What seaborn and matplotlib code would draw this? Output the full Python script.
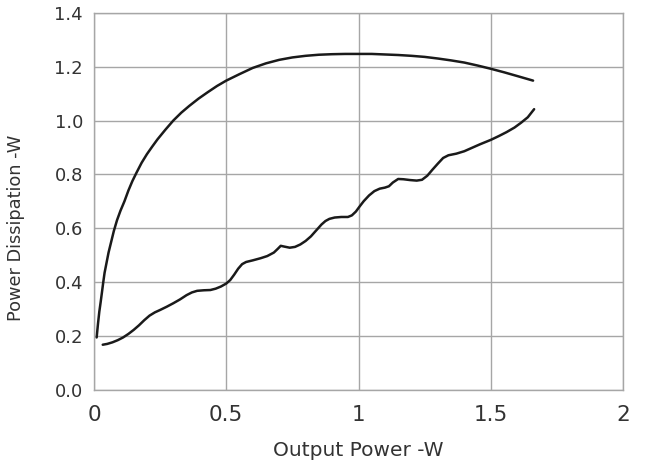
import matplotlib
matplotlib.use("Agg")
import matplotlib.pyplot as plt
import seaborn as sns
import pandas as pd

# Upper curve
upper_x = [0.010, 0.015, 0.020, 0.025, 0.030, 0.035, 0.040, 0.047, 0.055, 0.065, 0.075, 0.087,
           0.100, 0.115, 0.130, 0.145, 0.160, 0.180, 0.200, 0.220, 0.240, 0.270, 0.300, 0.330,
           0.360, 0.395, 0.430, 0.465, 0.500, 0.550, 0.600, 0.650, 0.700, 0.750, 0.800, 0.850,
           0.900, 0.950, 1.000, 1.050, 1.100, 1.150, 1.200, 1.250, 1.300, 1.350, 1.400, 1.450,
           1.500, 1.550, 1.600, 1.660]
upper_y = [0.195, 0.245, 0.290, 0.325, 0.362, 0.400, 0.435, 0.470, 0.510, 0.550, 0.590, 0.630,
           0.665, 0.700, 0.740, 0.775, 0.805, 0.843, 0.875, 0.903, 0.930, 0.966, 1.000, 1.029,
           1.054, 1.081, 1.105, 1.128, 1.148, 1.172, 1.195, 1.212, 1.225, 1.234, 1.240, 1.244,
           1.246, 1.247, 1.247, 1.247, 1.245, 1.243, 1.240, 1.236, 1.230, 1.223, 1.215, 1.204,
           1.192, 1.179, 1.165, 1.148]

# Lower curve
lower_x = [0.033, 0.05, 0.07, 0.09, 0.11, 0.13, 0.15, 0.17, 0.19, 0.21, 0.23, 0.25, 0.275,
           0.30, 0.325, 0.35, 0.37, 0.39, 0.415, 0.44, 0.46, 0.48, 0.50, 0.515, 0.53, 0.545,
           0.56, 0.575, 0.60, 0.63, 0.655, 0.68, 0.695, 0.706, 0.72, 0.74, 0.76, 0.78, 0.80,
           0.82, 0.84, 0.86, 0.875, 0.89, 0.91, 0.935, 0.96, 0.975, 0.99, 1.005, 1.02, 1.04,
           1.06, 1.08, 1.10, 1.115, 1.13, 1.15, 1.17, 1.195, 1.22, 1.24, 1.26, 1.28, 1.30,
           1.32, 1.34, 1.37, 1.40, 1.43, 1.46, 1.50, 1.53, 1.56, 1.59, 1.615, 1.64, 1.664]
lower_y = [0.168, 0.171, 0.177, 0.185, 0.195, 0.208, 0.223, 0.240, 0.259, 0.276, 0.288, 0.297,
           0.309, 0.322, 0.336, 0.352, 0.362, 0.368, 0.370, 0.371, 0.376, 0.384, 0.395, 0.408,
           0.428, 0.450, 0.467, 0.475, 0.481, 0.489, 0.497, 0.510, 0.524, 0.535, 0.532, 0.528,
           0.531, 0.540, 0.553, 0.570, 0.592, 0.614, 0.627, 0.635, 0.640, 0.642, 0.642, 0.648,
           0.662, 0.682, 0.701, 0.722, 0.738, 0.747, 0.751, 0.756, 0.770, 0.783, 0.782, 0.779,
           0.777, 0.780, 0.795, 0.818, 0.840, 0.861, 0.871, 0.877, 0.886, 0.899, 0.912, 0.928,
           0.942, 0.957, 0.974, 0.992, 1.012, 1.042]

x_ticks = [0, 0.5, 1, 1.5, 2]
x_tick_labels = ["0", "0.5", "1", "1.5", "2"]
y_ticks = [0.0, 0.2, 0.4, 0.6, 0.8, 1.0, 1.2, 1.4]
y_tick_labels = ["0.0", "0.2", "0.4", "0.6", "0.8", "1.0", "1.2", "1.4"]

sns.set_theme(style="white")
plt.rcParams['font.family'] = ['DejaVu Sans']

fig = plt.figure(figsize=(6.49, 4.62), dpi=100)
ax = fig.add_axes([94/649, 1 - 390/462, 529/649, 377.3/462])

grid_c = "#a6a6a6"
line_c = "#1a1a1a"
df_u = pd.DataFrame({"x": upper_x, "y": upper_y})
df_l = pd.DataFrame({"x": lower_x, "y": lower_y})
sns.lineplot(data=df_u, x="x", y="y", ax=ax, color=line_c, linewidth=1.8,
             sort=False, estimator=None, solid_joinstyle="round", solid_capstyle="round")
sns.lineplot(data=df_l, x="x", y="y", ax=ax, color=line_c, linewidth=1.8,
             sort=False, estimator=None, solid_joinstyle="round", solid_capstyle="round")

ax.set_xlim(0, 2)
ax.set_ylim(0, 1.4)
ax.set_xticks(x_ticks)
ax.set_xticklabels(x_tick_labels)
ax.set_yticks(y_ticks)
ax.set_yticklabels(y_tick_labels)
ax.grid(True, color=grid_c, linewidth=1.0)
ax.set_axisbelow(True)
for s in ax.spines.values():
    s.set_color(grid_c)
    s.set_linewidth(1.0)
    s.set_visible(True)
ax.tick_params(axis="x", length=0, pad=11, labelsize=15.5, labelcolor="#333333")
ax.tick_params(axis="y", length=0, pad=8, labelsize=13, labelcolor="#333333")

ax.set_xlabel("Output Power -W", fontsize=14.5, color="#333333")
ax.set_ylabel("Power Dissipation -W", fontsize=12.8, color="#333333")
ax.xaxis.set_label_coords(0.5, -0.135)
ax.yaxis.set_label_coords(-0.13, 0.43)

fig.savefig("out.png", dpi=100)
